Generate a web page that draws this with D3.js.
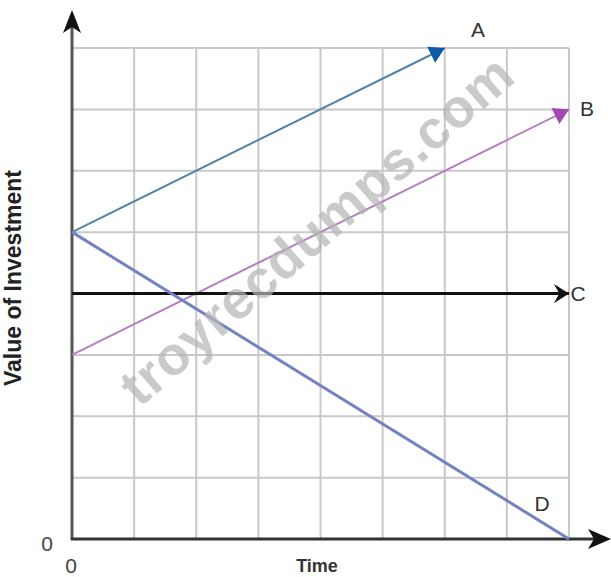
<!DOCTYPE html>
<html>
<head>
<meta charset="utf-8">
<script src="https://cdn.jsdelivr.net/npm/d3@7"></script>
<style>
  html, body { margin: 0; padding: 0; background: #fff; overflow: hidden; }
  svg { display: block; font-family: "Liberation Sans", Arial, sans-serif; }
</style>
</head>
<body>
<svg id="chart" width="611" height="577"></svg>
<script>
// grid ticks (time and value, both 0..8)
var gridTicks = [0, 1, 2, 3, 4, 5, 6, 7, 8]

// investment paths A-D: start value at time 0, end point
var seriesNames = ['A', 'B', 'C', 'D']
var startValues = [5, 3, 4, 5]
var endTimes = [6, 8, 8, 8]
var endValues = [8, 7, 4, 0]

var lineColors = ['#5283a6', '#b57fc0', '#111111', '#7382c2']
var headColors = ['#0f5aa6', '#a446b4', '#111111', null]

var svg = d3.select('#chart')

var x = d3.scaleLinear().domain([0, 8]).range([72, 569])
var y = d3.scaleLinear().domain([0, 8]).range([539, 48])

// markers
var defs = svg.append('defs')
headColors.forEach(function(c, i){
  if (!c) return
  var m = defs.append('marker')
    .attr('id', 'head' + i)
    .attr('viewBox', '-12 -8 14 16')
    .attr('markerUnits', 'userSpaceOnUse')
    .attr('markerWidth', 22)
    .attr('markerHeight', 22)
    .attr('refX', 0)
    .attr('refY', 0)
    .attr('orient', 'auto')
  if (seriesNames[i] == 'C') {
    m.append('path').attr('d', 'M-11,-7 L0,0 L-11,7 L-7,0 Z').attr('fill', c)
  } else {
    m.append('path').attr('d', 'M-11,-6.5 L0,0 L-11,6.5 Z').attr('fill', c)
  }
})

// grid
var grid = svg.append('g')
grid.selectAll('line.v').data(gridTicks.slice(1)).join('line')
  .attr('x1', d => x(d)).attr('x2', d => x(d))
  .attr('y1', y(0)).attr('y2', y(8))
  .attr('stroke', '#c9c9c9').attr('stroke-width', 2)
grid.selectAll('line.h').data(gridTicks.slice(1)).join('line')
  .attr('y1', d => y(d)).attr('y2', d => y(d))
  .attr('x1', x(0)).attr('x2', x(8))
  .attr('stroke', '#c9c9c9').attr('stroke-width', 2)

// axes with arrow heads
svg.append('line')
  .attr('x1', x(0)).attr('x2', x(0)).attr('y1', y(0) + 1).attr('y2', 24)
  .attr('stroke', '#555').attr('stroke-width', 3)
svg.append('path')
  .attr('d', `M${x(0)},10 L${x(0) + 9},33 L${x(0)},27 L${x(0) - 9},33 Z`)
  .attr('fill', '#111')
svg.append('line')
  .attr('x1', x(0) - 1).attr('x2', 598).attr('y1', y(0)).attr('y2', y(0))
  .attr('stroke', '#333').attr('stroke-width', 3)
svg.append('path')
  .attr('d', `M611,${y(0)} L588,${y(0) - 10} L594,${y(0)} L588,${y(0) + 10} Z`)
  .attr('fill', '#111')

// investment lines
var lines = seriesNames.map((name, i) => ({
  name, i,
  x1: 0, y1: startValues[i],
  x2: endTimes[i], y2: endValues[i],
}))

svg.append('g').selectAll('line').data(lines).join('line')
  .attr('x1', d => x(d.x1)).attr('y1', d => y(d.y1))
  .attr('x2', d => x(d.x2)).attr('y2', d => y(d.y2))
  .attr('stroke', d => lineColors[d.i])
  .attr('stroke-width', d => d.name == 'C' ? 3 : d.name == 'D' ? 3 : 2)
  .attr('marker-end', d => headColors[d.i] ? `url(#head${d.i})` : null)

// series labels
var labelPos = {A: [478, 37], B: [587, 116], C: [578, 301], D: [542, 511]}
svg.append('g').selectAll('text').data(lines).join('text')
  .attr('x', d => labelPos[d.name][0])
  .attr('y', d => labelPos[d.name][1])
  .attr('text-anchor', 'middle')
  .attr('font-size', 21)
  .attr('fill', '#333')
  .text(d => d.name)

// zero labels
svg.append('text').attr('x', 47).attr('y', 551).attr('text-anchor', 'middle')
  .attr('font-size', 21).attr('fill', '#444').text('0')
svg.append('text').attr('x', 71).attr('y', 573).attr('text-anchor', 'middle')
  .attr('font-size', 21).attr('fill', '#444').text('0')

// axis titles
svg.append('text')
  .attr('transform', 'translate(21,278) rotate(-90)')
  .attr('text-anchor', 'middle')
  .attr('font-size', 23).attr('font-weight', 'bold').attr('fill', '#222')
  .text('Value of Investment')
svg.append('text')
  .attr('x', 317).attr('y', 572)
  .attr('text-anchor', 'middle')
  .attr('font-size', 18).attr('font-weight', 'bold').attr('fill', '#333')
  .text('Time')

// watermark
svg.append('text')
  .attr('transform', 'translate(316,230) rotate(-41)')
  .attr('text-anchor', 'middle')
  .attr('dominant-baseline', 'central')
  .attr('font-family', '"Liberation Sans", Arial, sans-serif')
  .attr('font-size', 54).attr('font-weight', 'bold')
  .attr('fill', '#b5b5b5').attr('opacity', 0.7)
  .attr('textLength', 500)
  .text('troyrecdumps.com')
</script>
</body>
</html>
